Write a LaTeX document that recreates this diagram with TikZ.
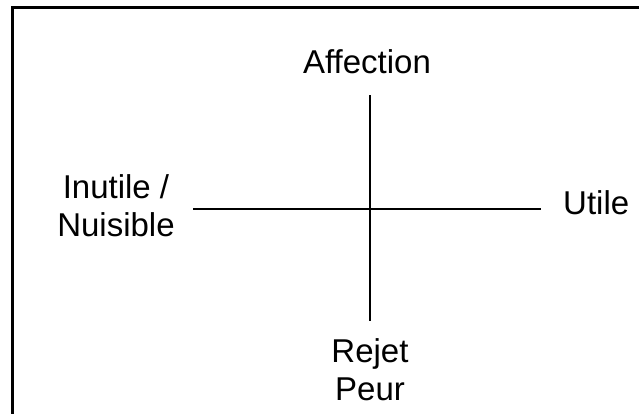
\documentclass[tikz,border=0pt]{standalone}
\usepackage{fontspec}
\setmainfont{Liberation Sans}
\usepackage{tikz}
\tikzstyle{etiquette}=[inner sep=0pt, align=center, font=\fontsize{33}{38}\selectfont]
\tikzstyle{axe}=[draw=black, line width=2pt]

\begin{document}
\begin{tikzpicture}[x=1pt, y=-1pt]
		\useasboundingbox (0,0) rectangle (639,413);
		\clip (0,0) rectangle (639,413);
		\path[draw=black, line width=3pt] (12.5,7.5) rectangle (660,430);
		\node[etiquette, anchor=base](aff) at (367,73) {Affection};
		\node[etiquette](inut) at (116,206) {Inutile /\\Nuisible};
		\node[etiquette, anchor=base west](utile) at (563,214) {Utile};
		\node[etiquette](rej) at (370,370) {Rejet\\Peur};
		\coordinate (haut) at (370,95);
		\coordinate (bas) at (370,321);
		\coordinate (gauche) at (193,209);
		\coordinate (droite) at (541,209);
		\path[axe]
			(gauche) -- (droite)
			(haut) -- (bas);
	\end{tikzpicture}
\end{document}
